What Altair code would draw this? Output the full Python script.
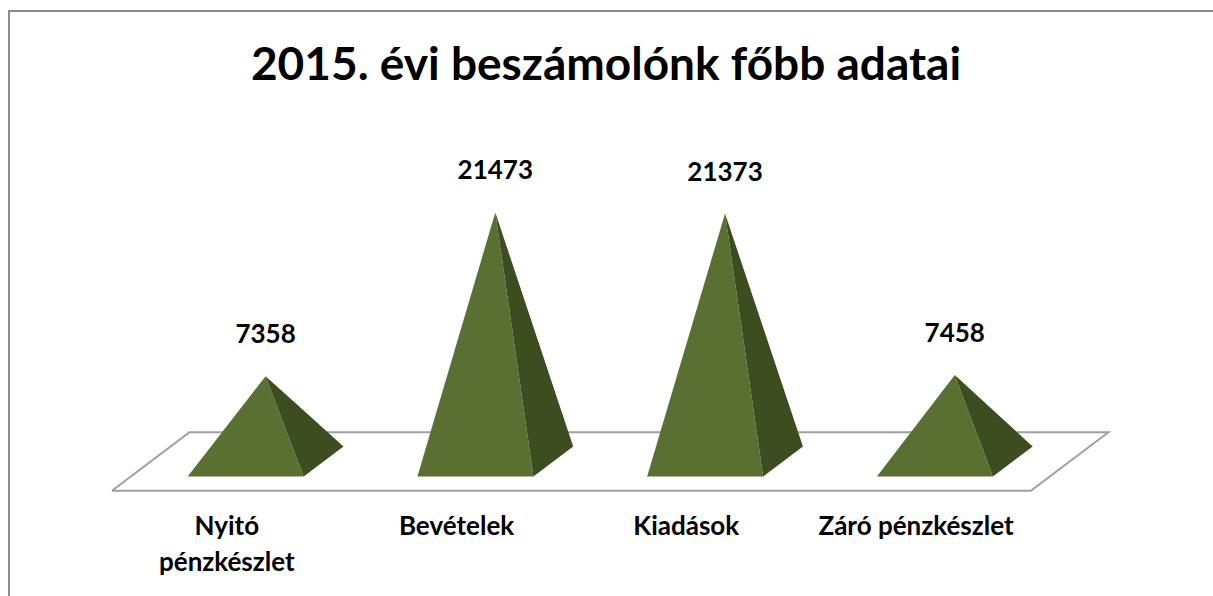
import altair as alt
import pandas as pd

# ---- data ----
categories = ["Nyitó\npénzkészlet", "Bevételek", "Kiadások", "Záró pénzkészlet"]
values = [7358, 21473, 21373, 7458]
title_text = "2015. évi beszámolónk főbb adatai"

# ---- geometry / style constants ----
W, H = 1213, 596
X_DOMAIN = [-0.656, 4.624]     # category units
Y_DOMAIN = [-11595, 39784]     # value units
DX = 0.1687                    # oblique x shift per unit depth (category units)
DY = 2522                      # oblique y shift per unit depth (value units)
HALF_W = 0.2525                # half base width of a pyramid
PYR_D = 0.513                  # pyramid half depth relative to floor half depth
FRONT = "#5A7032"
SIDE = "#3C4E20"
FONT = "Lato"

xs = alt.Scale(domain=X_DOMAIN, nice=False, zero=False)
ys = alt.Scale(domain=Y_DOMAIN, nice=False, zero=False)


def area_rows(poly, key, face):
    """Convert a convex polygon to area rows (x, upper y, lower y)."""
    rows = []
    n = len(poly)
    for xv in sorted(set(p[0] for p in poly)):
        yv = []
        for k in range(n):
            (x1, y1), (x2, y2) = poly[k], poly[(k + 1) % n]
            if min(x1, x2) - 1e-12 <= xv <= max(x1, x2) + 1e-12:
                if abs(x2 - x1) < 1e-12:
                    yv += [y1, y2]
                else:
                    t = (xv - x1) / (x2 - x1)
                    yv.append(y1 + t * (y2 - y1))
        rows.append({"key": key, "face": face, "x": xv, "y": max(yv), "y2": min(yv)})
    return rows


face_rows = []
for i, v in enumerate(values):
    c = i + 0.5
    fl = (c - HALF_W - PYR_D * DX, -PYR_D * DY)
    fr = (c + HALF_W - PYR_D * DX, -PYR_D * DY)
    br = (c + HALF_W + PYR_D * DX, PYR_D * DY)
    apex = (c, v)
    face_rows += area_rows([fl, fr, apex], f"{i}-front", "front")
    face_rows += area_rows([fr, br, apex], f"{i}-side", "side")
faces = pd.DataFrame(face_rows)

n = len(categories)
floor = pd.DataFrame({
    "x": [-DX, n - DX, n + DX, DX, -DX],
    "y": [-DY, -DY, DY, DY, -DY],
    "o": [0, 1, 2, 3, 4],
})

value_df = pd.DataFrame({"x": [i + 0.5 for i in range(n)], "y": values,
                         "label": [str(v) for v in values]})
cat_df = pd.DataFrame({"x": [i + 0.5 - DX for i in range(n)], "y": [-DY] * n,
                       "label": categories})

one = pd.DataFrame({"a": [0]})

border = alt.Chart(one).mark_rect(filled=False, stroke="#8c8c8c", strokeWidth=2).encode(
    x=alt.value(9), y=alt.value(11), x2=alt.value(1260), y2=alt.value(660))

title = alt.Chart(one).mark_text(
    text=title_text, font=FONT, fontSize=46, fontWeight="bold", color="#000000",
    align="center", baseline="alphabetic").encode(x=alt.value(606), y=alt.value(80))

floor_layer = alt.Chart(floor).mark_line(color="#a0a0a0", strokeWidth=2).encode(
    x=alt.X("x:Q", scale=xs, axis=None),
    y=alt.Y("y:Q", scale=ys, axis=None),
    order="o:Q")

faces_layer = alt.Chart(faces).mark_area(interpolate="linear").encode(
    x=alt.X("x:Q", scale=xs, axis=None),
    y=alt.Y("y:Q", scale=ys, axis=None),
    y2="y2:Q",
    detail="key:N",
    color=alt.Color("face:N", scale=alt.Scale(domain=["front", "side"], range=[FRONT, SIDE]),
                    legend=None))

value_layer = alt.Chart(value_df).mark_text(
    font=FONT, fontSize=26, fontWeight="bold", color="#000000",
    align="center", baseline="alphabetic", dy=-33).encode(
    x=alt.X("x:Q", scale=xs, axis=None),
    y=alt.Y("y:Q", scale=ys, axis=None),
    text="label:N")

cat_layer = alt.Chart(cat_df).mark_text(
    font=FONT, fontSize=26, fontWeight="bold", color="#000000",
    align="center", baseline="alphabetic", dy=44, lineBreak="\n", lineHeight=36).encode(
    x=alt.X("x:Q", scale=xs, axis=None),
    y=alt.Y("y:Q", scale=ys, axis=None),
    text="label:N")

chart = alt.layer(border, title, floor_layer, faces_layer, value_layer, cat_layer).properties(
    width=W, height=H, autosize=alt.AutoSizeParams(type="none"), padding=0,
    background="#ffffff"
).configure_view(stroke=None)

chart.save("out.html", embed_options={"renderer": "svg", "actions": False})
